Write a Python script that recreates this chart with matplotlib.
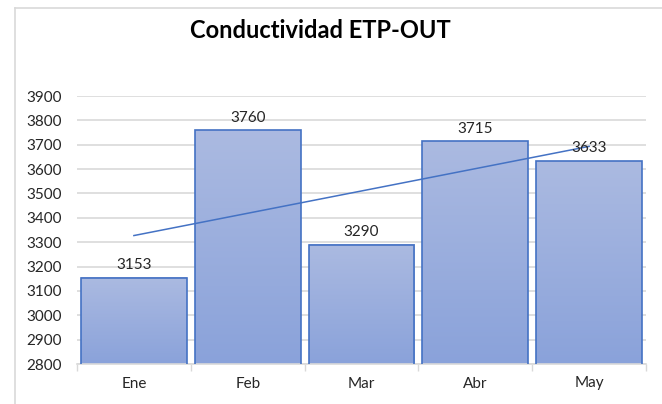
import matplotlib

matplotlib.use("Agg")
import matplotlib.pyplot as plt
import numpy as np
from matplotlib.lines import Line2D

plt.rcParams["font.family"] = ["Lato", "DejaVu Sans"]

months = ["Ene", "Feb", "Mar", "Abr", "May"]
conductividad = [3153, 3760, 3290, 3715, 3633]
y_ticks = list(range(2800, 4000, 100))

W, H = 662, 404
fig = plt.figure(figsize=(W / 100, H / 100), dpi=100)

# chart frame (cropped on the right and bottom like the reference)
frame_c = "#D9D9D9"
fig.add_artist(Line2D([15 / W, 15 / W], [0, 1 - 8 / H], color=frame_c, lw=1.2,
                      transform=fig.transFigure))
fig.add_artist(Line2D([15 / W, 1], [1 - 8 / H, 1 - 8 / H], color=frame_c, lw=1.2,
                      transform=fig.transFigure))

left, right, bottom, top = 77, 646, 364, 96
ax = fig.add_axes([left / W, 1 - bottom / H, (right - left) / W, (bottom - top) / H])

x = np.arange(len(months))
bars = ax.bar(x, conductividad, width=0.93, bottom=0, color="none",
              edgecolor="#4472C4", linewidth=1.2, zorder=3)

# vertical gradient fill like Excel
grad = np.linspace(0, 1, 256).reshape(-1, 1)
c_top = np.array([0xAB, 0xBA, 0xE1]) / 255
c_bot = np.array([0x8A, 0xA2, 0xDA]) / 255
img = c_top[None, None, :] * (1 - grad[:, :, None]) + c_bot[None, None, :] * grad[:, :, None]
for b in bars:
    x0, w, h = b.get_x(), b.get_width(), b.get_height()
    ax.imshow(img, extent=[x0, x0 + w, 2800, h], aspect="auto", zorder=2,
              interpolation="bilinear")

# linear trend line
coef = np.polyfit(x, conductividad, 1)
ax.plot(x, np.polyval(coef, x), color="#4472C4", lw=1.1, zorder=4)

txt_c = "#262626"
for xi, v in zip(x, conductividad):
    ax.annotate(f"{v}", (xi, v), xytext=(0, 4), textcoords="offset points",
                ha="center", va="bottom", fontsize=11, color=txt_c, zorder=5)

ax.set_xlim(-0.5, len(months) - 0.5)
ax.set_ylim(2800, 3900)
ax.set_yticks(y_ticks)
ax.set_yticklabels([str(t) for t in y_ticks], fontsize=11, color=txt_c)
ax.set_xticks(x)
ax.set_xticklabels(months, fontsize=11, color=txt_c)
ax.tick_params(axis="y", length=0, pad=11)
ax.tick_params(axis="x", length=0, pad=9)
ax.set_xticks(np.arange(-0.5, len(months), 1), minor=True)
ax.tick_params(axis="x", which="minor", length=5, color=frame_c, width=1)

ax.grid(axis="y", color="#D9D9D9", lw=1.2, zorder=0)
ax.set_axisbelow(True)
for s in ["top", "right", "left"]:
    ax.spines[s].set_visible(False)
ax.spines["bottom"].set_color(frame_c)
ax.spines["bottom"].set_linewidth(1.2)

fig.text(320 / W, 1 - 31 / H, "Conductividad ETP-OUT", ha="center", va="center",
         fontsize=17, fontweight="bold", color="black")

fig.savefig("out.png", dpi=100)
